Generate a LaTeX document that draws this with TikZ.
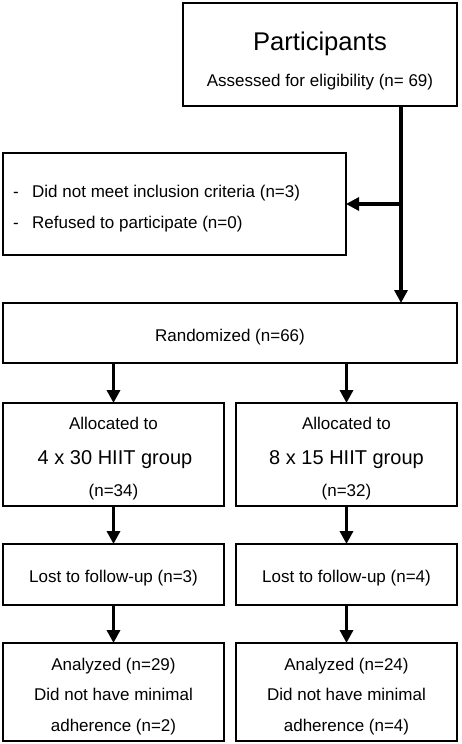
\documentclass[tikz,border=0pt]{standalone}
\usepackage{fontspec}
\setmainfont{Liberation Sans}
\usetikzlibrary{arrows.meta}
\tikzset{
  box/.style={draw=black, line width=1.1pt, inner sep=0pt, outer sep=0pt, fill=white},
  lbl/.style={font=\fontsize{17}{20}\selectfont, inner sep=0pt, anchor=base},
  biglbl/.style={font=\fontsize{25.6}{30}\selectfont, inner sep=0pt, anchor=base},
  midlbl/.style={font=\fontsize{20}{24}\selectfont, inner sep=0pt, anchor=base},
  arr/.style={line width=3.6pt, -{Triangle[length=13pt,width=13pt]}}
}
\begin{document}
\begin{tikzpicture}[x=1pt,y=-1pt]
\useasboundingbox (0,0) rectangle (461,744);
% boxes
\node[box, minimum width=274pt, minimum height=103pt] (P) at (320,54.5) {};
\node[box, minimum width=343pt, minimum height=102pt] (E) at (174.5,204) {};
\node[box, minimum width=454pt, minimum height=60pt] (R) at (230,333) {};
\node[box, minimum width=221pt, minimum height=103pt] (A1) at (113.5,454.5) {};
\node[box, minimum width=221pt, minimum height=103pt] (A2) at (346.5,454.5) {};
\node[box, minimum width=221pt, minimum height=61pt] (L1) at (113.5,574.5) {};
\node[box, minimum width=221pt, minimum height=61pt] (L2) at (346.5,574.5) {};
\node[box, minimum width=221pt, minimum height=98pt] (N1) at (113.5,692) {};
\node[box, minimum width=221pt, minimum height=98pt] (N2) at (346.5,692) {};
% texts
\node[biglbl] (tP1) at (320,50.5) {Participants};
\node[lbl] (tP2) at (320,86) {Assessed for eligibility (n= 69)};
\node[lbl] (dE1) at (16,197.3) {-};
\node[lbl, anchor=base west] (tE1) at (32,197.3) {Did not meet inclusion criteria (n=3)};
\node[lbl] (dE2) at (16,228.3) {-};
\node[lbl, anchor=base west] (tE2) at (32,228.3) {Refused to participate (n=0)};
\node[lbl] (tR) at (230,341.7) {Randomized (n=66)};
\node[lbl] (tA11) at (113.5,429.3) {Allocated to};
\node[midlbl] (tA12) at (115,464) {4 x 30 HIIT group};
\node[lbl] (tA13) at (113.5,496) {(n=34)};
\node[lbl] (tA21) at (346.5,429.3) {Allocated to};
\node[midlbl] (tA22) at (346.5,464) {8 x 15 HIIT group};
\node[lbl] (tA23) at (346.5,496) {(n=32)};
\node[lbl] (tL1) at (113.5,582.7) {Lost to follow-up (n=3)};
\node[lbl] (tL2) at (346.5,582.7) {Lost to follow-up (n=4)};
\node[lbl] (tN11) at (113.5,670) {Analyzed (n=29)};
\node[lbl] (tN12) at (113.5,700.7) {Did not have minimal};
\node[lbl] (tN13) at (113.5,731.7) {adherence (n=2)};
\node[lbl] (tN21) at (346.5,670) {Analyzed (n=24)};
\node[lbl] (tN22) at (346.5,700.7) {Did not have minimal};
\node[lbl] (tN23) at (346.5,731.7) {adherence (n=4)};
% connectors
\coordinate (vx) at (401,0);
\draw[arr] (P.south -| vx) -- (R.north -| vx);
\draw[arr] (vx |- E.east) -- (E.east);
\draw[arr] (R.south -| A1.north) -- (A1.north);
\draw[arr] (R.south -| A2.north) -- (A2.north);
\draw[arr] (A1.south) -- (L1.north);
\draw[arr] (A2.south) -- (L2.north);
\draw[arr] (L1.south) -- (N1.north);
\draw[arr] (L2.south) -- (N2.north);
\end{tikzpicture}
\end{document}
